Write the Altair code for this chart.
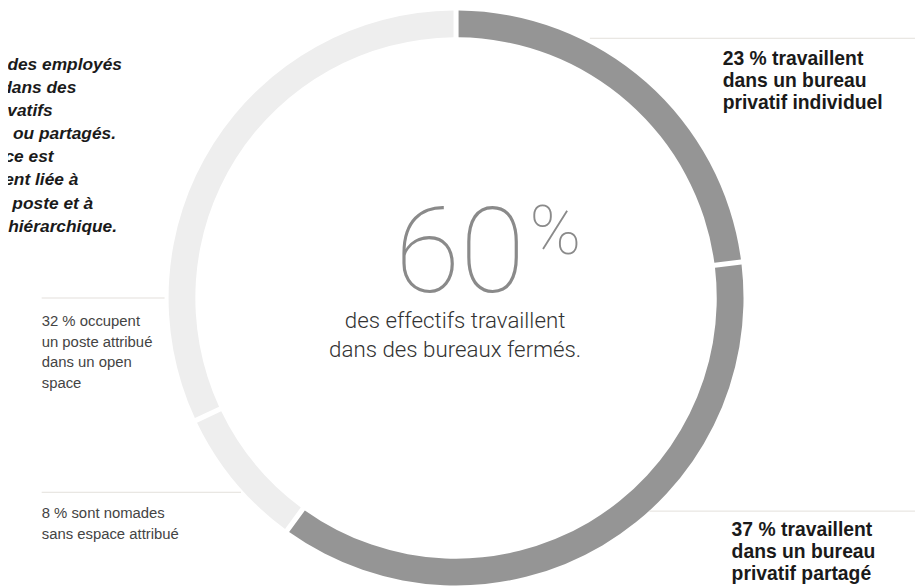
import altair as alt
import pandas as pd

# ---- data ----
categories = ["Bureau privatif individuel", "Bureau privatif partagé",
              "Nomade sans espace attribué", "Poste attribué en open space"]
values = [23, 37, 8, 32]
colors = ["#959595", "#959595", "#eeeeee", "#eeeeee"]

big_number = "60"
big_unit = "%"
center_lines = ["des effectifs travaillent", "dans des bureaux fermés."]
label_23 = ["23 % travaillent", "dans un bureau", "privatif individuel"]
label_37 = ["37 % travaillent", "dans un bureau", "privatif partagé"]
label_32 = ["32 % occupent", "un poste attribué", "dans un open", "space"]
label_8 = ["8 % sont nomades", "sans espace attribué"]
intro_lines = ["La majorité des employés", "travaille dans des", "bureaux privatifs",
               "individuels ou partagés.", "Cette présence est", "généralement liée à",
               "la nature du poste et à", "la position hiérarchique."]

OFF = 8  # page margin
W, H = 915, 579

df = pd.DataFrame({"cat": categories, "value": values, "idx": list(range(len(values)))})

ring = alt.Chart(df).mark_arc(innerRadius=263, outerRadius=290, padAngle=0.013).encode(
    theta=alt.Theta("value:Q", stack=True),
    order=alt.Order("idx:Q"),
    color=alt.Color("cat:N", scale=alt.Scale(domain=categories, range=colors), legend=None),
    x=alt.value(460 - OFF),
    y=alt.value(298 - OFF),
)

dummy = alt.Data(values=[{"a": 1}])


def txt(text, x, y, **kw):
    return alt.Chart(dummy).mark_text(baseline="alphabetic", lineBreak="\n", **kw).encode(
        x=alt.value(x - OFF), y=alt.value(y - OFF), text=alt.value(text))


def rule(x1, x2, y, color="#e3e0db"):
    return alt.Chart(dummy).mark_rule(color=color, strokeWidth=1).encode(
        x=alt.value(x1 - OFF), x2=alt.value(x2 - OFF), y=alt.value(y - OFF))


layers = [ring]

# center
layers.append(txt(big_number, 464, 292, align="center", font="Roboto", fontWeight=100,
                  fontSize=120, color="#8a8a8a"))
layers.append(txt(big_unit, 534, 254, align="left", font="Roboto", fontWeight=100,
                  fontSize=70, color="#8a8a8a"))
layers.append(txt("\n".join(center_lines), 459, 328, align="center", font="Roboto",
                  fontWeight=300, fontSize=22.5, lineHeight=30, color="#333333"))

# right labels
layers.append(txt("\n".join(label_23), 729, 63, align="left", font="Liberation Sans",
                  fontWeight="bold", fontSize=19.5, lineHeight=22, color="#1a1a1a"))
layers.append(txt("\n".join(label_37), 738, 538, align="left", font="Liberation Sans",
                  fontWeight="bold", fontSize=19.5, lineHeight=22, color="#1a1a1a"))

# left labels
layers.append(txt("\n".join(label_32), 42, 326, align="left", font="Liberation Sans",
                  fontSize=15, lineHeight=21, color="#444444"))
layers.append(txt("\n".join(label_8), 42, 520, align="left", font="Liberation Sans",
                  fontSize=15, lineHeight=21, color="#444444"))

# intro text (clipped at the left)
intro_right = [123, 77, 53, 117, 54, 79, 94, 118]
for i, (line, r) in enumerate(zip(intro_lines, intro_right)):
    layers.append(txt(line, r, 68 + i * 23.3, align="right", font="Liberation Sans",
                      fontWeight="bold", fontStyle="italic", fontSize=17.5, color="#1a1a1a"))

# leader lines
layers.append(rule(595, 923, 36))
layers.append(rule(655, 923, 513))
layers.append(rule(42, 166, 298))
layers.append(rule(42, 243, 494))

chart = alt.layer(*layers).properties(
    width=W, height=H, padding=0, autosize=alt.AutoSizeParams(type="none")
).configure_view(stroke=None)

chart.save("out.html", embed_options={"renderer": "svg", "actions": False})
